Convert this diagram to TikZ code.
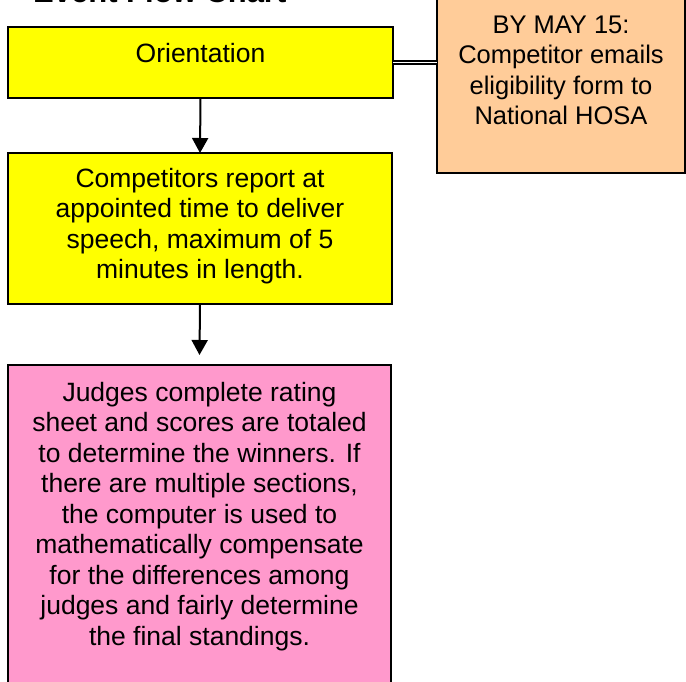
\documentclass[tikz,border=0pt]{standalone}
\usepackage{fontspec}
\setmainfont{Liberation Sans}
\usetikzlibrary{arrows.meta}
\definecolor{boxyellow}{HTML}{FFFF00}
\definecolor{boxpink}{HTML}{FF99CC}
\definecolor{boxorange}{HTML}{FFCC99}
\newcommand\flowtxt[5]{\parbox[t][#1pt][t]{#2pt}{\centering\fontsize{#3}{30.5}\selectfont\rule{0pt}{#4pt}#5}}
\begin{document}
\begin{tikzpicture}[x=1pt,y=-1pt,
  stepbox/.style={draw=black, line width=1.8pt, inner sep=0pt, outer sep=0pt, anchor=north west},
  flow/.style={draw=black, line width=2pt, -{Triangle[width=16pt,length=15pt]}},
  link/.style={draw=black, line width=1.8pt, double=white, double distance=1.8pt}]
\clip (0,0) rectangle (686,681);
\fill[white] (0,0) rectangle (686,681);
\node[anchor=base west, inner sep=0pt, font=\bfseries\fontsize{31}{36}\selectfont] (title) at (33,2) {Event Flow Chart};
\node[stepbox, fill=boxyellow] (orient) at (8,27)
  {\flowtxt{71}{385}{26.5}{35}{Orientation}};
\node[stepbox, fill=boxyellow] (report) at (8,153)
  {\flowtxt{151}{384}{26.5}{34}{Competitors report at\\appointed time to deliver\\speech, maximum of 5\\minutes in length.}};
\node[stepbox, fill=boxpink] (judge) at (8,365)
  {\flowtxt{340}{383}{26.5}{36}{Judges complete rating\\sheet and scores are totaled\\to determine the winners. If\\there are multiple sections,\\the computer is used to\\mathematically compensate\\for the differences among\\judges and fairly determine\\the final standings.}};
\node[stepbox, fill=boxorange] (form) at (437,-2)
  {\flowtxt{175}{248}{25.5}{35}{BY MAY 15:\\Competitor emails\\eligibility form to\\National HOSA}};
\draw[link] (orient.east) -- (orient.east -| form.west);
\draw[flow] (orient.south) -- (report.north);
\draw[flow] (report.south) -- ([yshift=10pt]judge.north);
\end{tikzpicture}
\end{document}
